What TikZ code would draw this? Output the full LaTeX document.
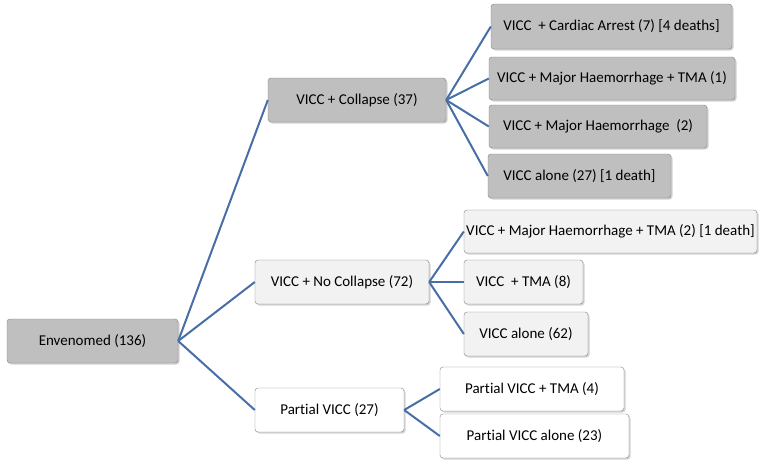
\documentclass[tikz,border=0pt]{standalone}
\usepackage{fontspec}
\setmainfont{Carlito}[Ligatures=NoCommon]
\usetikzlibrary{shadows}
\definecolor{linkblue}{RGB}{72,110,168}
\definecolor{darkfill}{RGB}{191,191,191}
\definecolor{lightfill}{RGB}{242,242,242}
\definecolor{boxline}{RGB}{128,128,128}
\tikzset{
	box/.style={draw=boxline, rounded corners=3pt, minimum height=44pt, inner sep=0pt,
		font=\fontsize{15}{18}\selectfont,
		drop shadow={shadow xshift=1.5pt, shadow yshift=-1.5pt, opacity=0.35}},
	link/.style={linkblue, line width=2pt}
}

\begin{document}
\begin{tikzpicture}[x=1pt, y=-1pt]
			%%%%% START %%%%%
			\useasboundingbox (0, 0) rectangle (764, 467);
			
			\node[box, fill=darkfill, minimum width=171pt] (env) at (92.5, 341) {Envenomed (136)};
			
			\node[box, fill=darkfill, minimum width=178pt] (col) at (357, 100) {VICC + Collapse (37)};
			\node[box, fill=lightfill, minimum width=174pt] (nocol) at (342, 282) {VICC + No Collapse (72)};
			\node[box, fill=white, minimum width=149pt] (part) at (329.5, 410) {Partial VICC (27)};
			
			\node[box, fill=darkfill, minimum width=241pt, minimum height=45pt] (colA) at (611.5, 26.5) {VICC~ + Cardiac Arrest (7) [4 deaths]};
			\node[box, fill=darkfill, minimum width=246pt, minimum height=43pt] (colB) at (612, 78.5) {VICC + Major Haemorrhage + TMA (1)};
			\node[box, fill=darkfill, minimum width=218pt, minimum height=43pt] (colC) at (598, 126.5) {VICC + Major Haemorrhage~ (2)};
			\node[box, fill=darkfill, minimum width=183pt] (colD) at (579.5, 176) {VICC alone (27) [1 death]};
			
			\node[box, fill=lightfill, minimum width=293pt, minimum height=43pt] (nocolA) at (610.5, 231.5) {VICC + Major Haemorrhage + TMA (2) [1 death]};
			\node[box, fill=lightfill, minimum width=119pt] (nocolB) at (523.5, 282) {VICC~ + TMA (8)};
			\node[box, fill=lightfill, minimum width=124pt] (nocolC) at (526, 334) {VICC alone (62)};
			
			\node[box, fill=white, minimum width=184pt] (partA) at (532, 389) {Partial VICC + TMA (4)};
			\node[box, fill=white, minimum width=189pt] (partB) at (534.5, 436) {Partial VICC alone (23)};
			
			\foreach \a/\b in {env/col, env/nocol, env/part, col/colA, col/colB, col/colC, col/colD, nocol/nocolA, nocol/nocolB, nocol/nocolC, part/partA, part/partB}
				\draw[link] (\a.east) -- (\b.west);
			%%%%% END %%%%%
\end{tikzpicture}
\end{document}
